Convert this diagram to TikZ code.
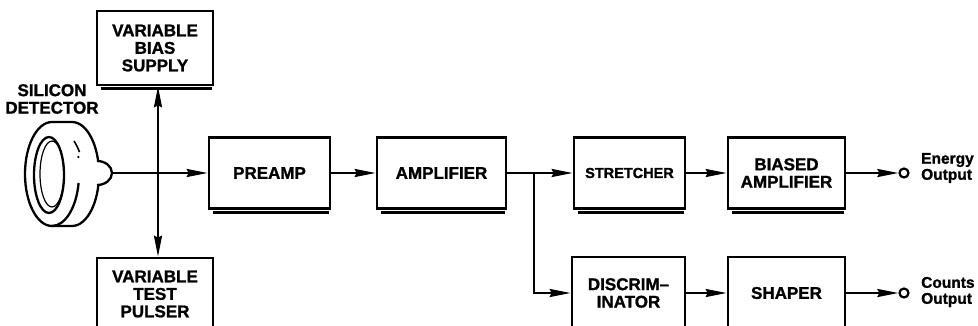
\documentclass[tikz,border=0pt]{standalone}
\usepackage{fontspec}
\setmainfont{Liberation Sans}[BoldFeatures={FakeBold=1.3}]
\usetikzlibrary{arrows.meta}
\begin{document}
\begin{tikzpicture}[x=1pt,y=-1pt,
  txt/.style={font=\fontsize{17}{17.5}\selectfont\bfseries, align=center},
  blk/.style={txt, draw, line width=2.6pt, inner sep=0pt},
  tip/.tip={Stealth[length=21pt,width=8pt,inset=2pt]},
  conn/.style={line width=2.2pt, -tip},
  shadow/.style={line width=2.8pt},
  outc/.style={circle, draw, line width=2.2pt, minimum size=9pt, inner sep=0pt},
  outlbl/.style={font=\fontsize{15.5}{16}\selectfont\bfseries, align=left, anchor=west, inner sep=0pt},
  det/.style={line width=2.3pt}]
\useasboundingbox (0,0) rectangle (978,326);

% blocks
\node[blk, minimum width=116pt, minimum height=74pt] (bias) at (155,48) {VARIABLE\\BIAS\\SUPPLY};
\node[blk, minimum width=116pt, minimum height=72pt] (pulser) at (155,294) {VARIABLE\\TEST\\PULSER};
\node[blk, minimum width=121pt, minimum height=71pt] (pre) at (269.5,173) {PREAMP};
\node[blk, minimum width=129pt, minimum height=71pt] (amp) at (441.5,173) {AMPLIFIER};
\node[blk, minimum width=111pt, minimum height=71pt, font=\fontsize{14.5}{17.5}\selectfont\bfseries] (str) at (629.5,173) {STRETCHER};
\node[blk, minimum width=117pt, minimum height=71pt] (bamp) at (786.5,173) {BIASED\\AMPLIFIER};
\node[blk, minimum width=113pt, minimum height=72pt] (disc) at (628.5,293) {DISCRIM--\\INATOR};
\node[blk, minimum width=117pt, minimum height=72pt] (shp) at (786.5,293) {SHAPER};

% shadows
\foreach \b in {bias,pre,amp,str,bamp}{
  \draw[shadow] ([xshift=5pt,yshift=-2.6pt]\b.south west) -- ([xshift=-2pt,yshift=-2.6pt]\b.south east);
}

% detector
\node[txt] (detlbl) at (52,99) {SILICON\\DETECTOR};
\begin{scope}[shift={(52,174)}, x=1pt, y=1pt]
  % silhouette
  \draw[det, fill=white] (20,52) arc[start angle=90, end angle=-90, x radius=27, y radius=52]
     -- (0,-52) arc[start angle=-90, end angle=-270, x radius=27, y radius=52] -- cycle;
  % right edge of front face, broken
  \draw[det] (0,-52) arc[start angle=-90, end angle=-10, x radius=27, y radius=52];
  \draw[line width=1.6pt] (22,33) arc[start angle=52, end angle=35, x radius=27, y radius=52];
  \fill (26.3,17) circle[radius=1.2pt];
  % window
  \draw[det] (-3,-1) ellipse[x radius=15, y radius=38];
  \draw[line width=1.2pt] (0,0) ellipse[x radius=12, y radius=33];
  % connector nub
  \draw[det, fill=white] (45,13) arc[start angle=90, end angle=-90, x radius=15, y radius=12];
  \coordinate (nub) at (60,1);
\end{scope}

% connectors
\coordinate (vx) at (158,173);
\draw[line width=2.2pt, tip-tip] (bias.south -| vx) -- (pulser.north -| vx);
\draw[conn] (nub) -- (nub -| pre.west);
\draw[conn] (pre.east) -- (amp.west);
\draw[conn] (amp.east) -- (str.west);
\coordinate (br) at (534,173);
\draw[conn] (br) |- (disc.west);
\draw[conn] (str.east) -- (bamp.west);
\draw[conn] (disc.east) -- (shp.west);

% outputs
\node[outc] (eo) at (904,173) {};
\node[outc] (co) at (904,293) {};
\draw[conn] (bamp.east) -- (eo.west);
\draw[conn] (shp.east) -- (co.west);
\node[outlbl] (elbl) at (921,168) {Energy\\Output};
\node[outlbl] (clbl) at (921,292) {Counts\\Output};
\end{tikzpicture}
\end{document}
